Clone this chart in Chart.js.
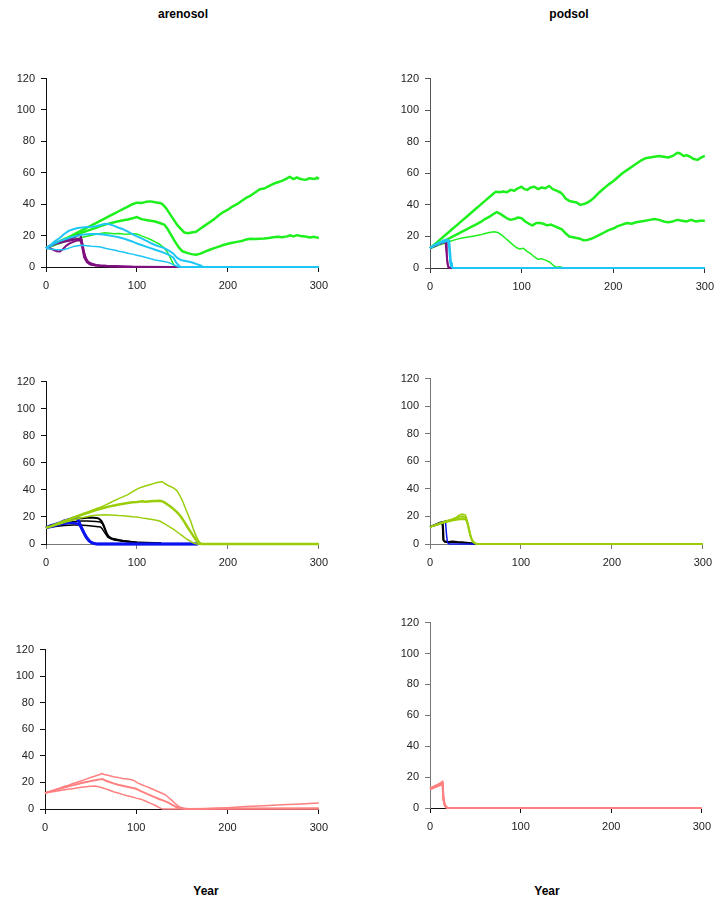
<!DOCTYPE html>
<html><head><meta charset="utf-8">
<script src="https://cdn.jsdelivr.net/npm/chart.js@4.4.1/dist/chart.umd.min.js"></script>
<style>
html,body{margin:0;padding:0;background:#fff}
body{width:718px;height:899px;position:relative;overflow:hidden;font-family:"Liberation Sans",Arial,sans-serif}
.t{position:absolute;font-weight:bold;font-size:12px;line-height:14px;color:#000;transform:translateX(-50%);white-space:nowrap}
.p{position:absolute}
</style></head><body>
<div class="t" style="left:183px;top:7px">arenosol</div>
<div class="t" style="left:569px;top:7px">podsol</div>
<div class="t" style="left:206px;top:884px">Year</div>
<div class="t" style="left:547px;top:884px">Year</div>
<script>
// ---------- data: [year, value] ----------
const xTicks = [0, 100, 200, 300];
const yTicks = [0, 20, 40, 60, 80, 100, 120];

// arenosol, top
const arenGreenHigh = [[0,12],[5,13.5],[10,15],[15,16.3],[20,17.8],[25,19],[30,20.5],[35,22],[40,23.5],[45,25],[50,26.5],[55,28],[60,29.5],[65,31],[70,32.5],[75,34],[80,35.5],[85,37],[90,38.5],[95,40],[100,41],[105,40.8],[110,41.5],[115,41.8],[120,41.2],[125,40.8],[128,40],[132,37.5],[136,34],[140,30.5],[144,27],[148,24.5],[152,22],[156,21.5],[160,22],[165,22.5],[170,24.5],[175,26.5],[180,28.5],[185,30.5],[190,33],[195,35],[200,36.5],[205,38.5],[210,40],[215,42],[220,44],[225,45.5],[230,47.5],[235,49.5],[240,50],[245,51.5],[250,53],[255,54],[260,55],[265,56.5],[268,57.5],[272,56],[276,57],[280,56],[285,55.5],[290,56.5],[295,56],[298,57],[300,56]];
const arenGreenMid = [[0,12],[5,13.2],[10,14.5],[15,15.8],[20,17],[25,18.2],[30,19.5],[35,20.7],[40,22],[45,23],[50,24],[55,25],[60,26],[65,27],[70,27.8],[75,28.5],[80,29.2],[85,29.8],[90,30.3],[95,31],[100,31.8],[105,30.5],[110,30],[115,29.5],[120,29],[125,28],[130,27],[134,24],[138,20],[142,16],[146,12.5],[150,10],[155,9],[160,8.2],[165,7.8],[170,8.5],[175,9.8],[180,11],[185,12],[190,13],[195,14],[200,14.8],[205,15.5],[210,16],[215,16.5],[220,17.5],[225,18],[230,17.8],[235,18],[240,18.2],[245,18.5],[250,19],[255,19.2],[260,19],[265,19.5],[268,20.2],[272,19.5],[276,20.3],[280,19.8],[285,19.5],[290,18.8],[295,19.2],[300,18.5]];
const arenGreenLow = [[0,12],[5,13],[10,14],[15,15],[20,16],[25,16.8],[30,17.5],[35,18.2],[40,19],[45,19.6],[50,20.2],[55,20.8],[60,21.3],[65,21.8],[70,21.5],[75,21.2],[80,21.4],[85,21],[90,20.8],[95,21.2],[100,21],[105,19.8],[110,18.7],[115,17.5],[120,16],[125,14.5],[130,12],[134,9],[137,5.5],[140,2],[142,0],[300,0]];
const arenCyanA = [[0,12],[5,14],[10,16.5],[15,18.5],[20,21],[25,23],[30,24],[35,24.8],[40,25.2],[45,25.5],[50,25.6],[55,26],[60,26.8],[65,27.5],[70,27.2],[75,26.2],[80,25],[85,24],[90,22.5],[95,21],[100,19.5],[105,18.2],[110,16.8],[115,15.3],[120,14],[125,13],[130,12],[135,10.5],[140,8.5],[144,6],[148,4.5],[152,4],[156,3.5],[160,3],[165,2],[170,1],[173,0],[300,0]];
const arenCyanB = [[0,12],[5,13.5],[10,15],[15,16.5],[20,17.5],[25,18.5],[30,19.3],[35,20],[40,20.5],[45,20.8],[50,21],[55,21],[60,20.8],[65,20.5],[70,20],[75,19.5],[80,19],[85,18.2],[90,17.2],[95,16.2],[100,15],[105,14],[110,13],[115,12],[120,11],[125,10],[130,9],[135,7.8],[140,6],[143,3],[146,1],[148,0],[300,0]];
const arenCyanC = [[0,12],[5,11.5],[10,11.2],[15,11],[20,11.2],[25,12],[30,13],[35,13.5],[40,13.8],[45,13.5],[50,13.2],[55,13],[60,12.8],[65,12],[70,11.3],[75,10.8],[80,10],[85,9.5],[90,8.8],[95,8.2],[100,7.5],[105,6.8],[110,6],[115,5.2],[120,4.5],[125,4],[130,3.5],[135,2.8],[140,1.5],[144,0.5],[146,0],[300,0]];
const arenPurpleA = [[0,12],[4,13],[8,14.5],[12,15.5],[16,16.5],[20,17],[24,17.5],[28,18],[32,19],[36,20.5],[38,20],[40,15],[42,9],[44,5],[47,2.5],[50,1.5],[55,1],[60,0.8],[65,0.8],[70,0.5],[75,0.6],[80,0.3],[90,0.2],[100,0.1],[140,0],[300,0]];
const arenPurpleB = [[0,12],[4,12],[8,11],[12,10],[15,9.8],[18,11],[22,13.5],[26,15],[30,16],[34,16.8],[38,17],[40,12],[42,6],[45,3],[48,1.8],[52,1.2],[58,0.8],[65,0.5],[75,0.3],[90,0],[300,0]];
const arenPurpleC = [[0,12],[4,13.5],[8,14],[12,15],[16,15.5],[20,16],[24,16.5],[28,17],[32,17.5],[36,18],[39,17.5],[41,11],[43,6.5],[46,3.5],[50,2.2],[55,1.3],[60,1],[68,0.7],[80,0.4],[95,0.1],[110,0],[300,0]];

// podsol, top
const podGreenHigh = [[0,12.5],[5,15],[10,17.5],[15,20],[20,22.5],[25,25],[30,27.5],[35,30],[40,32.5],[45,35],[50,37.5],[55,40],[60,42.5],[65,45],[70,47.5],[72,48.3],[76,48],[80,48.5],[84,48],[88,49.5],[92,49],[96,50.5],[100,51.5],[103,50],[106,49.5],[110,51],[114,51.5],[118,50],[122,51],[126,50.5],[130,52],[134,50],[138,49],[142,48],[145,46.5],[148,44],[152,42.5],[156,42],[160,41.5],[164,40],[168,40.5],[172,41.5],[176,43],[180,45],[185,48],[190,50.5],[195,53],[200,55],[205,57.5],[210,60],[215,62],[220,64],[225,66],[230,68],[235,69.5],[240,70],[245,70.5],[250,71],[255,70.5],[260,70],[265,71],[270,73],[273,72.5],[277,71],[280,71.5],[284,70.5],[288,69],[292,68.5],[296,70],[300,71]];
const podGreenMid = [[0,12.5],[5,14],[10,15.5],[15,17],[20,18.5],[25,20],[30,21.5],[35,23],[40,24.5],[45,26],[50,27.5],[55,29],[60,31],[65,32.5],[70,34.5],[73,35.5],[76,34.5],[80,33],[84,31.5],[88,30.5],[92,31],[96,32],[100,31.5],[104,29.5],[108,28],[112,27],[116,28.5],[120,28.5],[124,28],[128,27],[132,27.5],[136,26.5],[140,25.5],[144,24.5],[148,22],[152,20],[156,19.5],[160,19],[164,18.5],[168,17.5],[172,17.8],[176,18.5],[180,19.5],[185,21],[190,22.5],[195,24],[200,25],[205,26.5],[210,27.5],[215,28.5],[220,28],[225,29],[230,29.5],[235,30],[240,30.5],[245,31],[250,30.5],[255,29.5],[260,29],[265,29.5],[270,30.5],[275,30],[280,29.5],[285,30.5],[290,29.5],[295,30],[300,30]];
const podGreenLow = [[0,12.5],[5,13.5],[10,14.5],[15,15.5],[20,16.5],[25,17.5],[30,18.3],[35,19],[40,19.5],[45,20],[50,20.5],[55,21],[60,21.8],[65,22.5],[70,23],[74,22.5],[78,21],[82,19],[86,17],[90,15],[94,13],[98,12],[102,12.5],[106,10.5],[110,9],[114,7],[118,5.5],[122,5.8],[126,5],[130,4],[133,2.5],[136,1],[138,0.5],[142,0.8],[145,0],[300,0]];
const podPurpleA = [[0,12.5],[3,13.5],[6,14],[9,15],[12,15.5],[15,16.5],[17,17],[18,10],[19,3],[20,0.5],[22,0],[300,0]];
const podPurpleB = [[0,12.8],[3,13.2],[6,14.2],[9,14.8],[12,15.8],[15,16],[17.5,16.5],[18.5,8],[19.5,2],[21,0.3],[23,0],[300,0]];
const podCyanA = [[0,12.5],[3,14],[6,15],[9,16],[12,16.5],[15,17.5],[18,18],[21,17.5],[22,10],[23,3],[24,0.5],[26,0],[300,0]];
const podCyanB = [[0,13],[3,13.5],[6,14.5],[9,15],[12,16],[15,16.5],[18,17],[20,17],[21,12],[22,4],[23,1],[25,0],[300,0]];

// arenosol, middle
const arenYGHigh = [[0,12],[5,13.2],[10,14.5],[15,15.8],[20,17],[25,18.4],[30,19.8],[35,21],[40,22.3],[45,23.5],[50,24.8],[55,26],[60,27.2],[65,28.7],[70,30.3],[75,32],[80,33.5],[85,35],[90,36.5],[95,38.5],[100,40.5],[105,42],[110,43],[115,44],[120,45],[125,45.8],[128,46],[131,44.5],[135,43],[140,41.5],[144,39.5],[147,36],[150,32],[153,27],[156,22],[159,17],[162,11],[165,6],[168,2],[170,0.5],[172,0],[300,0]];
const arenYGMid = [[0,12],[5,13],[10,14.2],[15,15.5],[20,16.8],[25,18],[30,19.3],[35,20.5],[40,21.7],[45,22.8],[50,24],[55,25],[60,26],[65,27],[70,27.8],[75,28.5],[80,29.2],[85,29.8],[90,30.3],[95,30.8],[100,31],[105,31.5],[110,31.3],[115,31.6],[120,31.8],[125,32],[128,31.5],[132,30],[136,28],[140,26],[144,23.5],[148,20.5],[152,16.5],[156,12],[160,8],[163,5],[166,2],[169,0.5],[171,0],[300,0]];
const arenYGLow = [[0,12],[5,12.8],[10,13.8],[15,14.8],[20,15.8],[25,16.8],[30,17.8],[35,18.7],[40,19.5],[45,20.2],[50,20.8],[55,21.2],[60,21.5],[65,21.7],[70,21.5],[75,21.3],[80,21],[85,20.8],[90,20.5],[95,20.2],[100,20],[105,19.3],[110,18.8],[115,18.3],[120,17.8],[125,17],[130,15],[135,13],[140,11],[145,8.5],[150,6],[155,3.5],[160,1.5],[163,0.5],[166,0],[300,0]];
const arenBlueA = [[0,12],[5,13.5],[10,14.5],[15,15.5],[20,17],[25,18],[30,19],[33,19.5],[36,17],[39,12],[42,8],[45,4.5],[48,2],[51,0.8],[54,0.2],[57,0],[167,0]];
const arenBlueB = [[0,12],[5,12.5],[10,13.5],[15,14.5],[20,15],[25,15.5],[30,15.5],[35,15],[38,13],[41,9],[44,5],[47,2.5],[50,1],[53,0.3],[56,0],[167,0]];
const arenBlackA = [[0,12],[5,13],[10,14.2],[15,15.5],[20,16.5],[25,17.5],[30,18.2],[35,18.8],[40,19],[45,19.4],[50,19.6],[55,19.3],[58,18.8],[61,17],[63,14.5],[65,11],[67,7.5],[69,5.5],[72,4],[76,3.5],[80,3],[85,2.2],[90,1.8],[95,1.3],[100,1.1],[110,0.9],[120,0.7],[126,0.5],[127,0]];
const arenBlackB = [[0,12],[5,12.8],[10,13.8],[15,14.6],[20,15.3],[25,16],[30,16.5],[35,16.8],[40,17],[45,17],[50,16.8],[55,16.6],[60,16.2],[62,15],[64,12],[66,8.5],[68,6],[71,4.5],[75,3.5],[80,2.8],[90,2],[100,1.3],[115,0.8],[126,0.5],[127,0]];
const arenBlackC = [[0,12],[5,12.5],[10,13],[15,13.3],[20,13.6],[25,13.8],[30,14],[35,14],[40,13.8],[45,13.6],[50,13.3],[55,13],[60,12.5],[62,11],[64,9],[66,7],[68,5],[71,4],[75,3],[85,2],[100,1],[126,0.5],[127,0]];

// podsol, middle
const podYGA = [[0,12.4],[4,13.5],[8,14.5],[12,15.5],[16,16.5],[20,17.2],[24,18],[28,19],[31,20.5],[34,21.5],[37,21.5],[39,21],[41,17],[43,11],[45,5],[47,2],[49,0.5],[51,0],[300,0]];
const podYGB = [[0,12.4],[4,13.3],[8,14.2],[12,15.2],[16,16.2],[20,17],[24,17.6],[28,18.5],[32,19.8],[36,20.3],[39,19.5],[41,15],[43,9],[45,4],[47,1.5],[50,0.3],[52,0],[300,0]];
const podYGC = [[0,12.4],[4,13],[8,14],[12,15],[16,15.8],[20,16.5],[24,17.2],[28,17.8],[32,18.5],[36,19],[39,18.5],[42,13],[44,7],[46,3],[48,1],[51,0],[300,0]];
const podYGD = [[0,12.4],[4,13.2],[8,14],[12,14.8],[16,15.5],[20,16.2],[24,16.8],[28,17.3],[32,17.8],[36,18],[40,17.5],[42,14],[44,8],[46,3.5],[49,1],[52,0],[300,0]];
const podBlackA = [[0,12.4],[4,13.5],[8,14.5],[11,15.5],[14,16],[15,2.5],[17,1.8],[20,1.5],[25,1.8],[30,1.5],[35,1.3],[40,1],[45,0.6],[48,0.3],[50,0],[300,0]];
const podBlackB = [[0,12.5],[4,13.2],[8,14],[11,14.8],[13.5,15.3],[14.5,3],[16,1.5],[22,1.2],[30,1],[40,0.8],[48,0.2],[50,0],[300,0]];
const podBlue = [[0,12.4],[4,13.5],[8,14.5],[12,15.5],[16,16.5],[17,16.8],[18,8],[19,2],[20,0.3],[22,0],[300,0]];

// arenosol, bottom
const arenSalA = [[0,12],[5,13.2],[10,14.4],[15,15.5],[20,16.7],[25,17.8],[30,19],[35,20.2],[40,21.3],[45,22.5],[50,23.7],[55,24.8],[60,26],[62,26.7],[65,26],[70,25.2],[75,24.3],[80,23.8],[85,23],[90,22.5],[95,22],[98,21.2],[102,19.5],[106,18.3],[110,17.2],[115,15.8],[120,14.3],[125,12.8],[130,11.3],[133,10],[136,8.3],[139,6.5],[142,4.5],[145,2.7],[148,1.3],[152,0.5],[158,0.2],[165,0],[175,0.1],[185,0.5],[200,1],[220,1.8],[240,2.5],[260,3.2],[280,3.8],[300,4.5]];
const arenSalB = [[0,12],[5,13],[10,14],[15,15],[20,16],[25,17],[30,17.8],[35,18.7],[40,19.5],[45,20.3],[50,21],[55,21.6],[60,22.3],[63,22.5],[66,21.5],[70,20.5],[75,19.3],[80,18.2],[85,17.5],[90,16.8],[95,16],[100,15.2],[105,13.5],[110,12],[115,10.5],[120,9],[125,7.5],[130,6.3],[135,4.8],[140,3],[144,1.5],[148,0.5],[155,0],[200,0.3],[300,0.5]];
const arenSalC = [[0,12],[5,12.6],[10,13.2],[15,13.8],[20,14.3],[25,14.8],[30,15.3],[35,15.8],[40,16.3],[45,16.8],[50,17.2],[55,17.3],[60,16.5],[65,15.5],[70,14.3],[75,13],[80,12],[85,11],[90,10],[95,9.2],[100,8.2],[105,7.4],[110,6],[115,4.4],[120,3],[124,1.5],[127,0.5],[129,0],[300,0]];

// podsol, bottom
const podSalA = [[0,12.4],[3,13.5],[6,14.5],[9,15.3],[12,16.3],[14,17.2],[14.7,8],[16,3],[17.5,1],[19,0],[300,0]];
const podSalB = [[0,12.8],[3,13.3],[6,14],[9,14.8],[12,15.5],[14,16],[14.6,7],[16,2.5],[17.5,0.8],[19,0],[300,0]];
const podSalC = [[0,12],[3,12.8],[6,13.5],[9,14.2],[12,15],[14,15.5],[14.5,6],[16,2],[17.5,0.5],[20,0],[300,0]];

// ---------- styles ----------
const GREEN = '#1ef01e', CYAN = '#1ec6f5', PURPLE = '#7f0f7f', BLUE = '#0a14f0', BLACK = '#000000', YG = '#9acd0a', SAL = '#ff8080';

// series listed top-most first (Chart.js draws dataset 0 last)
const panels = [
  { box:[46,76,320,267], ax:'#111', ay:'#111', series:[
    [arenCyanA,CYAN,2],[arenCyanB,CYAN,2],[arenCyanC,CYAN,1.5],
    [arenPurpleA,PURPLE,2],[arenPurpleB,PURPLE,2],[arenPurpleC,PURPLE,2],
    [arenGreenHigh,GREEN,2.5],[arenGreenMid,GREEN,2.5],[arenGreenLow,GREEN,1.5]]},
  { box:[430,76,706,268], ax:'#333', ay:'#555', series:[
    [podCyanA,CYAN,2],[podCyanB,CYAN,2],
    [podPurpleA,PURPLE,2],[podPurpleB,PURPLE,1.5],
    [podGreenHigh,GREEN,2.5],[podGreenMid,GREEN,2.5],[podGreenLow,GREEN,1.5]]},
  { box:[46,379,320,544], ax:'#777', ay:'#111', series:[
    [arenYGHigh,YG,1.5],[arenYGMid,YG,2.5],[arenYGLow,YG,1.5],
    [arenBlueA,BLUE,3],[arenBlueB,BLUE,2.5],
    [arenBlackA,BLACK,2],[arenBlackB,BLACK,1.5],[arenBlackC,BLACK,1.5]]},
  { box:[430,376,704,544], ax:'#777', ay:'#777', series:[
    [podYGA,YG,1.5],[podYGB,YG,1.5],[podYGC,YG,1.5],[podYGD,YG,1.5],
    [podBlue,BLUE,1.5],
    [podBlackA,BLACK,2],[podBlackB,BLACK,1.5]]},
  { box:[45,647,320,809], ax:'#111', ay:'#111', series:[
    [arenSalA,SAL,1.5],[arenSalB,SAL,2],[arenSalC,SAL,1.5]]},
  { box:[430,620,703,808], ax:'#111', ay:'#777', series:[
    [podSalA,SAL,2],[podSalB,SAL,2],[podSalC,SAL,2]]}
];

const FONT = { family: '"Liberation Sans", Arial, sans-serif', size: 11 };
const PAD_T = 10, PAD_R = 15, Y_W = 46, X_H = 30;

panels.forEach(p => {
  const [L, T, R, B] = p.box;
  const w = R - L + Y_W + PAD_R, h = B - T + PAD_T + X_H;
  const c = document.createElement('canvas');
  c.className = 'p';
  c.width = w; c.height = h;
  c.style.left = (L - Y_W) + 'px'; c.style.top = (T - PAD_T) + 'px';
  c.style.width = w + 'px'; c.style.height = h + 'px';
  document.body.appendChild(c);
  new Chart(c, {
    type: 'line',
    data: { datasets: p.series.map(([pts, color, bw]) => ({
      data: pts.map(([x, y]) => ({ x, y })),
      borderColor: color, borderWidth: bw, pointRadius: 0, tension: 0,
      fill: false, clip: false, borderJoinStyle: 'round'
    })) },
    options: {
      responsive: false, animation: false, events: [], devicePixelRatio: 1,
      plugins: { legend: { display: false }, tooltip: { enabled: false } },
      layout: { padding: { top: PAD_T, right: PAD_R, left: 0, bottom: 0 } },
      scales: {
        x: {
          type: 'linear', min: 0, max: 300,
          afterBuildTicks: s => { s.ticks = xTicks.map(v => ({ value: v })); },
          afterFit: s => { s.height = X_H; },
          ticks: { font: FONT, color: '#222', padding: 7, maxRotation: 0 },
          grid: { drawOnChartArea: false, drawTicks: true, tickLength: 5, color: p.ax },
          border: { display: true, color: p.ax, width: 1 }
        },
        y: {
          min: 0, max: 120,
          afterBuildTicks: s => { s.ticks = yTicks.map(v => ({ value: v })); },
          afterFit: s => { s.width = Y_W; },
          ticks: { font: FONT, color: '#222', padding: 6 },
          grid: { drawOnChartArea: false, drawTicks: true, tickLength: 5, color: p.ay },
          border: { display: true, color: p.ay, width: 1 }
        }
      }
    }
  });
});
</script>
</body></html>
